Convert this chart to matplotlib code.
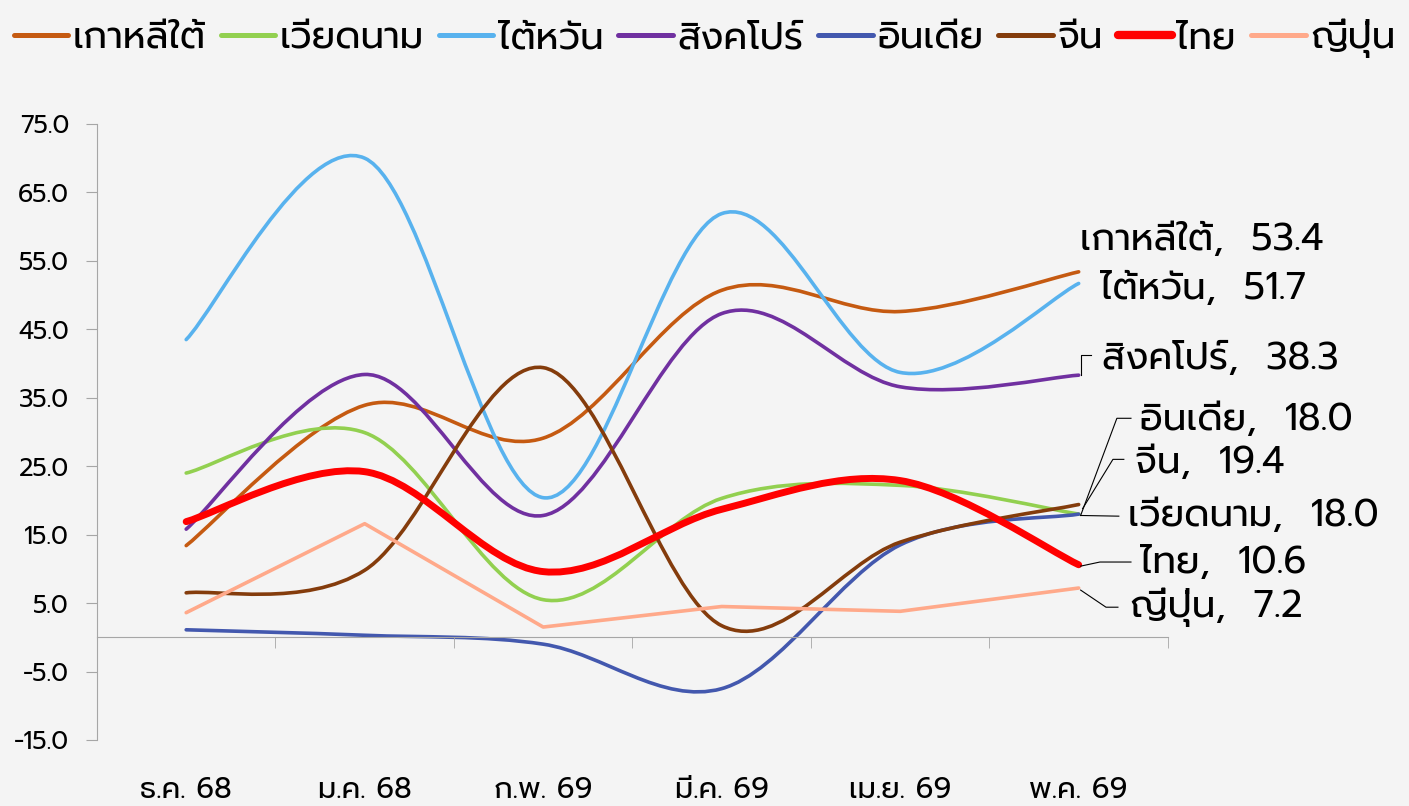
import matplotlib
matplotlib.use('Agg')
import matplotlib.pyplot as plt
from matplotlib.path import Path
from matplotlib.patches import PathPatch
import numpy as np

# ฟอนต์ไทย (Prompt / Kanit) และสำรองด้วย DejaVu
plt.rcParams['font.family'] = ['Prompt', 'Kanit', 'DejaVu Sans']

# ข้อมูล
months = ['ธ.ค. 68', 'ม.ค. 68', 'ก.พ. 69', 'มี.ค. 69', 'เม.ย. 69', 'พ.ค. 69']
korea = [13.4, 33.9, 29.1, 50.7, 47.6, 53.4]
vietnam = [24.0, 29.9, 5.5, 20.3, 22.2, 18.0]
taiwan = [43.5, 70.0, 20.4, 61.9, 38.7, 51.7]
singapore = [15.8, 38.4, 17.8, 47.3, 36.6, 38.3]
india = [1.1, 0.3, -1.0, -7.5, 13.5, 18.0]
china = [6.5, 9.8, 39.4, 1.7, 13.9, 19.4]
thailand = [16.9, 24.2, 9.6, 18.7, 22.9, 10.6]
japan = [3.6, 16.6, 1.5, 4.5, 3.8, 7.2]

# (ชื่อ, ค่า, สี, ความหนา, เส้นโค้ง)
series = [
    ('เกาหลีใต้', korea, '#C55A11', 2.6, True),
    ('เวียดนาม', vietnam, '#92D050', 2.6, True),
    ('ไต้หวัน', taiwan, '#58B2EE', 2.6, True),
    ('สิงคโปร์', singapore, '#7030A0', 2.6, True),
    ('อินเดีย', india, '#4358AE', 2.6, True),
    ('จีน', china, '#843C0C', 2.6, True),
    ('ไทย', thailand, '#FF0000', 5.0, True),
    ('ญี่ปุ่น', japan, '#FFA98A', 2.6, False),
]


def smooth_path(x, y):
    # เส้นโค้งแบบ Excel (Catmull-Rom -> Bezier)
    pts = np.column_stack([x, y]).astype(float)
    n = len(pts)
    verts = [pts[0]]
    codes = [Path.MOVETO]
    for i in range(n - 1):
        p0 = pts[max(i - 1, 0)]
        p1 = pts[i]
        p2 = pts[i + 1]
        p3 = pts[min(i + 2, n - 1)]
        c1 = p1 + (p2 - p0) / 6
        c2 = p2 - (p3 - p1) / 6
        verts += [c1, c2, p2]
        codes += [Path.CURVE4] * 3
    return Path(verts, codes)


bg = '#F4F4F4'
fig = plt.figure(figsize=(14.09, 8.06), dpi=100, facecolor=bg)
ax = fig.add_axes([0.0688, 0.0819, 0.7601, 0.7643], facecolor=bg)

x = np.arange(len(months))
handles = []
for name, vals, color, lw, smooth in series:
    if smooth:
        patch = PathPatch(smooth_path(x, vals), facecolor='none', edgecolor=color,
                          lw=lw, capstyle='round', joinstyle='round')
        ax.add_patch(patch)
    else:
        ax.plot(x, vals, color=color, lw=lw, solid_capstyle='round',
                solid_joinstyle='round')
    h, = ax.plot([], [], color=color, lw=lw + 1, solid_capstyle='round', label=name)
    handles.append(h)

ax.set_xlim(-0.5, 5.5)
ax.set_ylim(-15, 75)
yt = np.arange(-15, 76, 10)
ax.set_yticks(yt)
ax.set_yticklabels([f'{v:.1f}' for v in yt])

for s in ['top', 'right']:
    ax.spines[s].set_visible(False)
ax.spines['left'].set_color('#A6A6A6')
ax.spines['bottom'].set_color('#A6A6A6')
ax.spines['bottom'].set_position(('data', 0))
ax.tick_params(axis='y', colors='#A6A6A6', length=8, labelcolor='black', labelsize=18, pad=12)
ax.set_xticks(x)
ax.set_xticklabels([])
ax.set_xticks(np.arange(0.5, 5.6, 1), minor=True)
ax.tick_params(axis='x', which='major', length=0)
ax.tick_params(axis='x', which='minor', length=8, colors='#A6A6A6')

sec = ax.secondary_xaxis('bottom')
sec.set_xticks(x)
sec.set_xticklabels(months)
sec.spines['bottom'].set_visible(False)
sec.tick_params(length=0, labelsize=21, pad=26)

# ป้ายข้อมูลปลายเส้น
label_pos = {
    'เกาหลีใต้': (5.007, 58.0, None),
    'ไต้หวัน': (5.119, 50.9, None),
    'สิงคโปร์': (5.130, 40.7, [(5.011, 38.3), (5.011, 41.2), (5.067, 41.2)]),
    'อินเดีย': (5.343, 31.7, [(5.011, 17.8), (5.214, 32.0), (5.293, 32.0)]),
    'จีน': (5.315, 25.5, [(5.022, 18.8), (5.192, 26.0), (5.253, 26.0)]),
    'เวียดนาม': (5.276, 17.7, [(5.011, 17.8), (5.225, 17.7)]),
    'ไทย': (5.343, 10.8, [(5.011, 10.4), (5.119, 11.0), (5.293, 11.0)]),
    'ญี่ปุ่น': (5.287, 4.4, [(5.011, 6.9), (5.153, 4.4), (5.22, 4.4)]),
}
for name, vals, color, lw, smooth in series:
    tx, ty, leader = label_pos[name]
    ax.text(tx, ty, f'{name},  {vals[-1]:.1f}', fontsize=27, ha='left', va='center',
            clip_on=False)
    if leader:
        lx, ly = zip(*leader)
        ax.plot(lx, ly, color='black', lw=0.8, clip_on=False)

fig.legend(handles=handles, loc='center', bbox_to_anchor=(0.5, 0.952), ncol=8,
           frameon=False, fontsize=27, handlelength=1.45, handletextpad=0.12,
           columnspacing=0.4)

fig.savefig('out.png', dpi=100, facecolor=bg)
